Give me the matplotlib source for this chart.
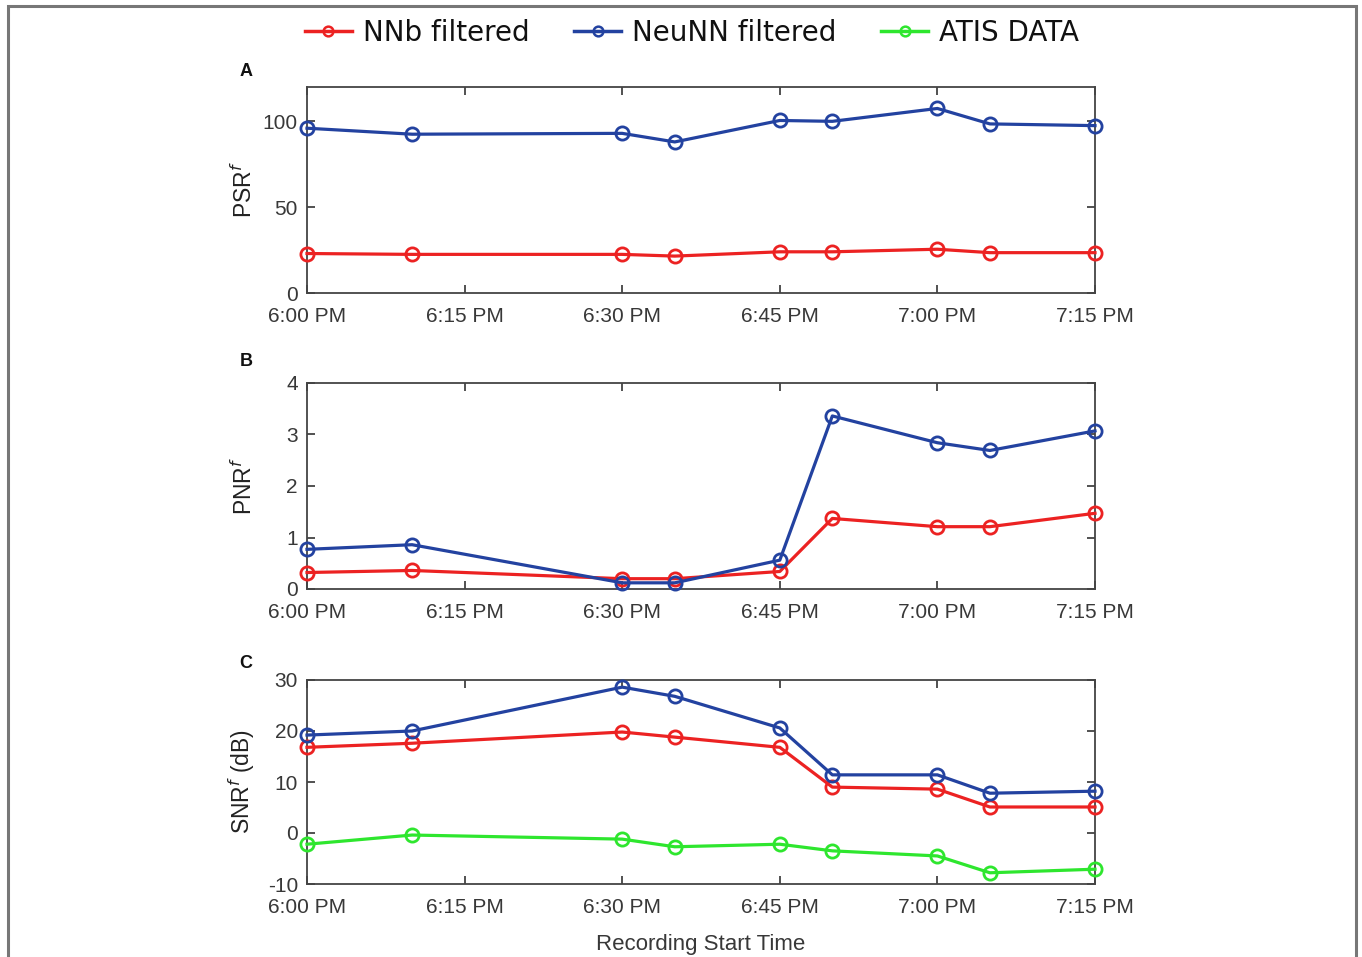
import matplotlib
matplotlib.use("Agg")
import matplotlib.pyplot as plt
from matplotlib.lines import Line2D
from matplotlib.patches import Rectangle

# ---- data ----
times = ["18:00", "18:10", "18:30", "18:35", "18:45", "18:50", "19:00", "19:05", "19:15"]
psr_nnb = [23, 22.5, 22.5, 21.5, 24, 24, 25.5, 23.5, 23.5]
psr_neu = [96, 92.5, 93, 88, 100.5, 100, 107.5, 98.5, 97.5]
pnr_nnb = [0.32, 0.36, 0.2, 0.2, 0.34, 1.37, 1.21, 1.21, 1.47]
pnr_neu = [0.77, 0.86, 0.12, 0.12, 0.56, 3.36, 2.84, 2.69, 3.07]
snr_nnb = [16.8, 17.6, 19.8, 18.8, 16.8, 9.0, 8.6, 5.1, 5.1]
snr_neu = [19.2, 20.0, 28.6, 26.8, 20.6, 11.4, 11.4, 7.8, 8.2]
snr_atis = [-2.2, -0.4, -1.2, -2.7, -2.2, -3.5, -4.5, -7.8, -7.1]
tick_times = ["18:00", "18:15", "18:30", "18:45", "19:00", "19:15"]
tick_labels = ["6:00 PM", "6:15 PM", "6:30 PM", "6:45 PM", "7:00 PM", "7:15 PM"]
series_names = ["NNb filtered", "NeuNN filtered", "ATIS DATA"]
ylabels = ["PSR$^{f}$", "PNR$^{f}$", "SNR$^{f}$ (dB)"]
panel_letters = ["A", "B", "C"]
yticks = [[0, 50, 100], [0, 1, 2, 3, 4], [-10, 0, 10, 20, 30]]
ylims = [(0, 120), (0, 4), (-10, 30)]


def to_min(t):
    h, m = t.split(":")
    return (int(h) - 18) * 60 + int(m)


x = [to_min(t) for t in times]
xt = [to_min(t) for t in tick_times]

RED = "#ec2222"
BLUE = "#2342a0"
GREEN = "#2ee62e"
TXT = "#383838"

plt.rcParams["font.family"] = ["Liberation Sans", "DejaVu Sans"]
plt.rcParams["axes.unicode_minus"] = False

fig = plt.figure(figsize=(13.62, 9.57), dpi=100)
W, H = 1362, 957

# frame around the figure
fig.patches.append(Rectangle((7.5 / W, -0.05), (1355.5 - 7.5) / W, 1.05 - 6 / H,
                             transform=fig.transFigure, fill=False,
                             edgecolor="#777777", linewidth=2.2))

boxes = [(87, 293), (383, 589), (680, 884)]
left, right = 307, 1095
data = [
    [(psr_nnb, RED), (psr_neu, BLUE)],
    [(pnr_nnb, RED), (pnr_neu, BLUE)],
    [(snr_nnb, RED), (snr_neu, BLUE), (snr_atis, GREEN)],
]
letter_y = [72, 362, 663]

for i, (top, bot) in enumerate(boxes):
    ax = fig.add_axes([left / W, 1 - bot / H, (right - left) / W, (bot - top) / H])
    for ys, c in data[i]:
        ax.plot(x, ys, color=c, lw=2.3, marker="o", ms=9.5, mfc="none",
                mec=c, mew=2.0, clip_on=False, zorder=3)
    ax.set_xlim(0, 75)
    ax.set_ylim(*ylims[i])
    ax.set_xticks(xt)
    ax.set_xticklabels(tick_labels)
    ax.set_yticks(yticks[i])
    ax.tick_params(direction="in", length=6, width=1.2, top=True, right=True,
                   labelsize=15, labelcolor=TXT, color="#333333")
    ax.tick_params(axis="x", pad=10)
    ax.tick_params(axis="y", pad=6.5)
    for s in ax.spines.values():
        s.set_color("#444444")
        s.set_linewidth(1.3)
    ax.set_ylabel(ylabels[i], fontsize=16.5, color="#222222")
    ax.yaxis.set_label_coords(-0.064, 0.5)
    fig.text(246 / W, 1 - letter_y[i] / H, panel_letters[i], fontsize=13,
             fontweight="bold", ha="center", va="center", color="#111111")
    if i == 2:
        ax.set_xlabel("Recording Start Time", fontsize=16, color=TXT, labelpad=12)

handles = [Line2D([], [], color=c, lw=2.5, marker="o", ms=7, mfc="none", mec=c, mew=1.8)
           for c in (RED, BLUE, GREEN)]
leg = fig.legend(handles, series_names, loc="center", bbox_to_anchor=(692 / W, 1 - 33 / H),
                 ncol=3, frameon=False, handlelength=1.7, handletextpad=0.4,
                 columnspacing=1.6,
                 prop={"family": "DejaVu Sans", "size": 20})
for t in leg.get_texts():
    t.set_color("#111111")

fig.savefig("out.png", dpi=100)
